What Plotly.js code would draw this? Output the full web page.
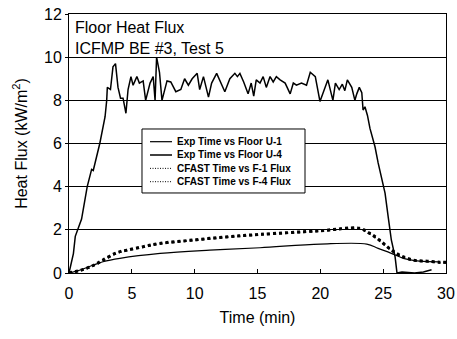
<!DOCTYPE html>
<html><head><meta charset="utf-8">
<script src="https://cdn.plot.ly/plotly-3.0.1.min.js"></script>
<style>body{margin:0;background:#fff}#c{width:457px;height:339px}</style>
</head><body><div id="c"></div>
<script>
const u1Time = [0,0.35,0.5,0.67,1.0,1.27,1.45,1.8,1.93,2.45,2.87,3.0,3.05,3.3,3.5,3.7,3.9,4.1,4.3,4.53,4.7,4.93,5.1,5.4,5.6,5.9,6.1,6.45,6.7,6.85,6.97,7.2,7.4,7.8,8.1,8.5,8.9,9.2,9.5,9.8,10.2,10.4,10.7,11.1,11.35,11.75,12.15,12.4,12.8,13.2,13.4,13.6,13.9,14.25,14.5,14.7,14.9,15.2,15.45,15.7,16.0,16.25,16.5,16.8,17.2,17.6,17.85,18.1,18.5,18.9,19.2,19.6,19.97,20.4,20.6,21.0,21.2,21.5,21.75,21.95,22.15,22.5,22.75,22.9,23.1,23.3,23.4,23.55,23.75,23.95,24.1,24.35,24.6,24.9,25.15,25.4,25.65,25.95,26.1,26.5,27.5,28.2,28.85];
const u1Flux = [0,0.9,1.7,2.0,2.5,3.4,4.0,4.8,4.75,6.0,7.24,8.0,8.6,8.5,9.55,9.7,8.6,8.1,8.1,7.4,8.5,9.1,8.7,9.1,8.8,8.9,8.0,8.8,9.1,8.0,10.0,9.3,8.0,8.9,8.85,8.4,8.5,9.0,8.7,9.0,9.25,8.5,9.1,8.15,8.8,9.25,8.7,8.4,9.0,9.25,9.1,9.25,8.85,8.3,8.8,8.2,8.95,8.8,9.1,8.6,9.1,8.85,9.1,8.95,8.8,8.3,8.8,8.7,8.8,8.7,9.3,9.1,7.95,8.6,8.95,8.0,8.8,8.5,8.75,8.45,8.95,8.6,8.0,8.3,8.6,8.35,7.55,7.7,7.3,6.7,6.4,5.85,5.1,4.3,3.7,2.6,1.53,0.75,0,0.05,0,0.05,0.15];
const u4Time = [0,0.9,1.95,2.7,4.05,7.25,11.2,15.2,20,23.7,24.6,25.65,26.6,27.9,29.5];
const u4Flux = [0,0.14,0.37,0.52,0.68,0.91,1.06,1.17,1.34,1.34,1.14,0.91,0.68,0.55,0.52];
const f1Time = [0,1,2,2.7,3.8,4.6,5.9,7.2,9.9,12.6,15.2,20,23.1,23.9,24.7,25.5,26.3,27.4,28.5,29.5,30];
const f1Flux = [0,0.14,0.37,0.6,0.94,1.06,1.22,1.37,1.53,1.68,1.79,1.96,2.07,1.85,1.53,1.14,0.83,0.6,0.55,0.5,0.5];
const f4Time = [0,1,2,2.7,3.8,4.6,5.9,7.2,9.9,12.6,15.2,20,23.1,23.9,24.7,25.5,26.3,27.4,28.5,29.5,30];
const f4Flux = [0,0.13,0.35,0.58,0.92,1.04,1.2,1.35,1.51,1.66,1.77,1.94,2.04,1.82,1.5,1.11,0.8,0.58,0.53,0.48,0.48];
const seriesNames = ["Exp Time vs Floor U-1","Exp Time vs Floor U-4","CFAST Time vs F-1 Flux","CFAST Time vs F-4 Flux"];
const xTicks = [0,5,10,15,20,25,30];
const yTicks = [0,2,4,6,8,10,12];

const F = "Liberation Sans, Arial, sans-serif";
const styles = [
  {color:'#000',width:1.5},
  {color:'#000',width:1.2,shape:'spline'},
  {color:'#000',width:3,dash:'dot',shape:'spline'},
  {color:'#000',width:2,dash:'dot',shape:'spline'}
];
const xs = [u1Time,u4Time,f1Time,f4Time], ys = [u1Flux,u4Flux,f1Flux,f4Flux];
const traces = seriesNames.map((n,i)=>({x:xs[i],y:ys[i],name:n,mode:'lines',line:styles[i],showlegend:false}));

// manual legend (box, sample lines, labels)
const legRows = [0.507,0.4556,0.404,0.3525];
const legLineStyles = [{width:1.2},{width:1.5},{width:1,dash:'1px,1.5px'},{width:1,dash:'1px,1.5px'}];
const shapes = [{type:'rect',xref:'paper',yref:'paper',x0:0.1936,x1:0.626,y0:0.309,y1:0.556,
  line:{color:'#000',width:1},fillcolor:'#fff',layer:'above'}];
const annotations = [
  {xref:'paper',yref:'paper',x:0.01,y:0.946,xanchor:'left',yanchor:'middle',showarrow:false,text:'Floor Heat Flux',font:{size:16,family:F}},
  {xref:'paper',yref:'paper',x:0.01,y:0.8687,xanchor:'left',yanchor:'middle',showarrow:false,text:'ICFMP BE #3, Test 5',font:{size:16,family:F}}
];
seriesNames.forEach((n,i)=>{
  shapes.push({type:'line',xref:'paper',yref:'paper',x0:0.2149,x1:0.2732,y0:legRows[i],y1:legRows[i],
    line:Object.assign({color:'#000'},legLineStyles[i]),layer:'above'});
  annotations.push({xref:'paper',yref:'paper',x:0.281,y:legRows[i],xanchor:'left',yanchor:'middle',showarrow:false,
    text:n,font:{size:10,family:F,weight:'bold'}});
});

const layout = {
  width:457,height:339,
  margin:{l:69,r:11,t:14,b:66},
  paper_bgcolor:'#fff',plot_bgcolor:'#fff',
  font:{family:F,color:'#000'},
  showlegend:false,
  xaxis:{range:[0,30],tickvals:xTicks,ticks:'inside',ticklen:4,tickcolor:'#000',showgrid:false,zeroline:false,
         showline:true,linecolor:'#000',linewidth:1,mirror:true,tickfont:{size:16,family:F},ticklabelstandoff:6,
         title:{text:'Time (min)',font:{size:16,family:F},standoff:10}},
  yaxis:{range:[0,12],tickvals:yTicks,ticks:'outside',ticklen:3,tickcolor:'#000',showgrid:true,gridcolor:'#000',gridwidth:1,
         zeroline:false,showline:true,linecolor:'#000',linewidth:1,mirror:true,tickfont:{size:16,family:F},
         title:{text:'Heat Flux (kW/m<sup>2</sup>)',font:{size:16,family:F},standoff:12}},
  shapes:shapes,
  annotations:annotations
};
Plotly.newPlot('c',traces,layout,{displayModeBar:false,staticPlot:true});
</script></body></html>
